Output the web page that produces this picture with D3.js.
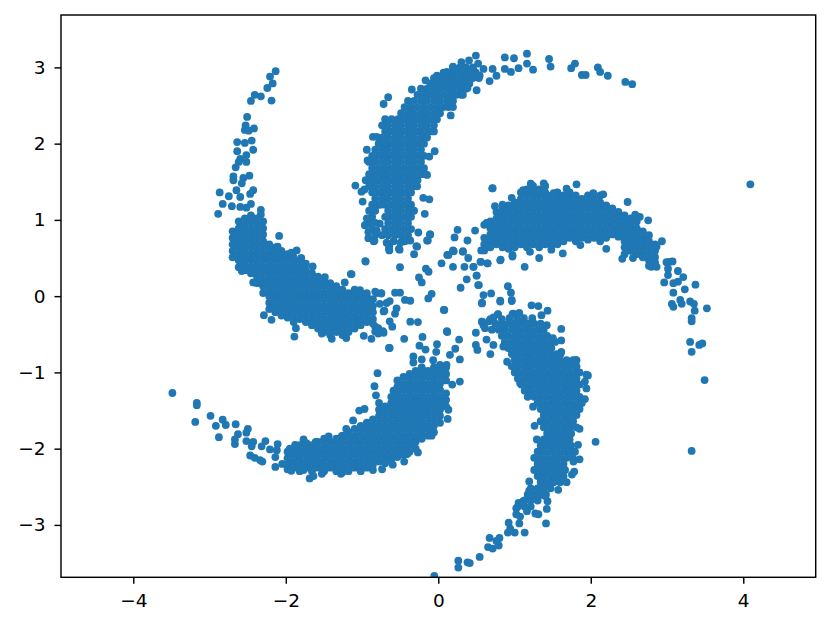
<!DOCTYPE html>
<html>
<head>
<meta charset="utf-8">
<script src="https://cdn.jsdelivr.net/npm/d3@7"></script>
<style>
  body { margin: 0; background: #fff; }
  text { font-family: "DejaVu Sans", sans-serif; }
</style>
</head>
<body>
<svg id="chart" width="831" height="628"></svg>
<script>
// ── Data ──────────────────────────────────────────────────────────────────────
const xTicks = [-4, -2, 0, 2, 4];
const yTicks = [-3, -2, -1, 0, 1, 2, 3];

// dense bands, read row by row: [y, [x...]]
const northRows = [
  [3.0,[.21,.30,.38,.47]],[2.93,[.085,.17,.255,.34,.425,.51]],[2.86,[-.04,.04,.13,.21,.30,.38,.47,.55]],
  [2.79,[-.085,0,.085,.17,.255,.34,.425]],[2.72,[-.21,-.13,-.04,.04,.13,.21,.30,.38]],
  [2.64,[-.255,-.17,-.085,0,.085,.17,.255,.34]],[2.56,[-.38,-.30,-.21,-.13,-.04,.04,.13,.21]],
  [2.48,[-.425,-.34,-.255,-.17,-.085,0,.085,.15]],[2.40,[-.47,-.38,-.30,-.21,-.13,-.04,.04]],
  [2.32,[-.68,-.595,-.51,-.425,-.34,-.255,-.17,-.085,0]],[2.24,[-.72,-.64,-.55,-.47,-.38,-.30,-.21,-.13,-.04]],
  [2.16,[-.68,-.595,-.51,-.425,-.34,-.255,-.17,-.085,-.04]],[2.08,[-.72,-.64,-.55,-.47,-.38,-.30,-.21,-.13]],
  [2.00,[-.765,-.68,-.595,-.51,-.425,-.34,-.255,-.17]],[1.92,[-.81,-.72,-.64,-.55,-.47,-.38,-.30,-.21]],
  [1.84,[-.85,-.765,-.68,-.595,-.51,-.425,-.34,-.255,-.17]],[1.76,[-.89,-.81,-.72,-.64,-.55,-.47,-.38,-.30,-.21]],
  [1.68,[-.85,-.765,-.68,-.595,-.51,-.425,-.34,-.255,-.17]],[1.60,[-.89,-.81,-.72,-.64,-.55,-.47,-.38,-.30,-.21,-.15]],
  [1.52,[-.935,-.85,-.765,-.68,-.595,-.51,-.425,-.34,-.255]],[1.44,[-.89,-.81,-.72,-.64,-.55,-.47,-.38,-.30]],
  [1.36,[-.85,-.765,-.68,-.595,-.51,-.425,-.34]],[1.28,[-.81,-.72,-.64,-.55,-.47,-.38]],
  [1.20,[-.85,-.765,-.68,-.595,-.51,-.425,-.34]],[1.12,[-.89,-.81,-.64,-.55,-.47,-.38,-.30]],
  [1.04,[-.85,-.68,-.595,-.51,-.425,-.34]],[.96,[-.89,-.81,-.64,-.55,-.47,-.38]],
  [.88,[-.85,-.68,-.595,-.51,-.425,-.34]],[.80,[-.81,-.72,-.64,-.55,-.47,-.38]]
];
// [x, [y...]]
const eastCols = [
  [.62,[.935,.765,.68,.6]],[.70,[.98,.89,.81,.72,.64]],[.78,[1.105,1.02,.935,.85,.765,.68]],
  [.86,[1.15,1.06,.98,.89,.81,.72,.64]],[.94,[1.19,1.105,1.02,.935,.85,.765,.68,.62]],
  [1.02,[1.23,1.15,1.06,.98,.89,.81,.72,.64]],[1.10,[1.36,1.275,1.19,1.105,1.02,.935,.85,.765,.68]],
  [1.18,[1.40,1.32,1.23,1.15,1.06,.98,.89,.81,.72,.64]],[1.26,[1.445,1.36,1.275,1.19,1.105,1.02,.935,.85,.765,.68]],
  [1.34,[1.40,1.32,1.23,1.15,1.06,.98,.89,.81,.72,.64]],[1.42,[1.445,1.36,1.275,1.19,1.105,1.02,.935,.85,.765,.68]],
  [1.50,[1.32,1.23,1.15,1.06,.98,.89,.81,.72,.66]],[1.58,[1.36,1.275,1.19,1.105,1.02,.935,.85,.765,.68]],
  [1.66,[1.32,1.23,1.15,1.06,.98,.89,.81,.72]],[1.74,[1.36,1.275,1.19,1.105,1.02,.935,.85,.765]],
  [1.82,[1.32,1.23,1.15,1.06,.98,.89,.81,.72]],[1.90,[1.275,1.19,1.105,1.02,.935,.85,.765]],
  [1.98,[1.32,1.23,1.15,1.06,.98,.89,.81,.74]],[2.06,[1.275,1.19,1.105,1.02,.935,.85,.765]],
  [2.14,[1.32,1.23,1.15,1.06,.98,.89,.81,.72]],[2.22,[1.19,1.105,1.02,.935,.85,.765]],
  [2.30,[1.15,1.06,.98,.89,.81]],[2.38,[1.105,1.02,.935,.85,.78]],[2.46,[1.06,.98,.89,.81,.72,.64,.55]],
  [2.54,[1.02,.935,.85,.765,.68,.595]],[2.62,[.98,.89,.81,.72,.64,.55]],[2.70,[.85,.765,.68,.595,.51]],
  [2.78,[.72,.64,.55,.47,.40]],[2.86,[.68,.595,.51,.44]]
];
const westCols = [
  [-2.68,[.85,.765,.68,.595,.51]],[-2.60,[.98,.89,.81,.72,.64,.55,.47,.38]],
  [-2.52,[1.02,.935,.85,.765,.68,.595,.51,.425,.34]],[-2.44,[1.06,.98,.89,.81,.72,.64,.55,.47,.38,.30]],
  [-2.36,[1.02,.935,.85,.765,.68,.595,.51,.425,.34,.255,.17]],[-2.28,[.98,.89,.81,.72,.64,.55,.47,.38,.30,.21,.13,.04]],
  [-2.20,[.68,.595,.51,.425,.34,.255,.17,.085,0,-.085,-.17]],[-2.12,[.64,.55,.47,.38,.30,.21,.13,.04,-.04,-.13,-.21]],
  [-2.04,[.595,.51,.425,.34,.255,.17,.085,0,-.085,-.17,-.255]],[-1.96,[.55,.47,.38,.30,.21,.13,.04,-.04,-.13,-.21,-.28]],
  [-1.88,[.51,.425,.34,.255,.17,.085,0,-.085,-.17,-.255,-.34]],[-1.80,[.47,.38,.30,.21,.13,.04,-.04,-.13,-.21,-.30]],
  [-1.72,[.425,.34,.255,.17,.085,0,-.085,-.17,-.255,-.34]],[-1.64,[.30,.21,.13,.04,-.04,-.13,-.21,-.30,-.38]],
  [-1.56,[.255,.17,.085,0,-.085,-.17,-.255,-.34,-.425]],[-1.48,[.21,.13,.04,-.04,-.13,-.21,-.30,-.38,-.47]],
  [-1.40,[.17,.085,0,-.085,-.17,-.255,-.34,-.425,-.51]],[-1.32,[.13,.04,-.04,-.13,-.21,-.30,-.38,-.47]],
  [-1.24,[.085,0,-.085,-.17,-.255,-.34,-.425,-.51]],[-1.16,[.04,-.04,-.13,-.21,-.30,-.38,-.47]],
  [-1.08,[.085,0,-.085,-.17,-.255,-.34,-.425]],[-1.00,[.04,-.04,-.13,-.21,-.30,-.38]],
  [-.92,[0,-.085,-.17,-.255,-.34]],[-.84,[-.04,-.13,-.21,-.30]]
];
const southWestCols = [
  [-1.96,[-2.04,-2.125,-2.21,-2.27]],[-1.88,[-2.0,-2.08,-2.17,-2.25]],[-1.80,[-1.955,-2.04,-2.125,-2.21,-2.295]],
  [-1.72,[-1.93,-2.0,-2.08,-2.17,-2.25]],[-1.64,[-1.955,-2.04,-2.125,-2.21,-2.295]],[-1.56,[-1.91,-2.0,-2.08,-2.17,-2.25]],
  [-1.48,[-1.87,-1.955,-2.04,-2.125,-2.21,-2.295]],[-1.40,[-1.91,-2.0,-2.08,-2.17,-2.25]],
  [-1.32,[-1.87,-1.955,-2.04,-2.125,-2.21,-2.295]],[-1.24,[-1.83,-1.91,-2.0,-2.08,-2.17,-2.25,-2.31]],
  [-1.16,[-1.785,-1.87,-1.955,-2.04,-2.125,-2.21,-2.295]],[-1.08,[-1.74,-1.83,-1.91,-2.0,-2.08,-2.17,-2.25]],
  [-1.00,[-1.70,-1.785,-1.87,-1.955,-2.04,-2.125,-2.21,-2.295]],[-.92,[-1.66,-1.74,-1.83,-1.91,-2.0,-2.08,-2.17,-2.25]],
  [-.84,[-1.615,-1.70,-1.785,-1.87,-1.955,-2.04,-2.125,-2.21,-2.28]],[-.76,[-1.40,-1.49,-1.57,-1.66,-1.74,-1.83,-1.91,-2.0,-2.08,-2.17]],
  [-.68,[-1.445,-1.53,-1.615,-1.70,-1.785,-1.87,-1.955,-2.04,-2.125,-2.19]],
  [-.60,[-1.32,-1.40,-1.49,-1.57,-1.66,-1.74,-1.83,-1.91,-2.0,-2.08,-2.14]],
  [-.52,[-1.105,-1.19,-1.275,-1.36,-1.445,-1.53,-1.615,-1.70,-1.785,-1.87,-1.955,-2.04,-2.11]],
  [-.44,[-1.06,-1.15,-1.23,-1.32,-1.40,-1.49,-1.57,-1.66,-1.74,-1.83,-1.91,-2.0,-2.08]],
  [-.36,[-1.02,-1.105,-1.19,-1.275,-1.36,-1.445,-1.53,-1.615,-1.70,-1.785,-1.87,-1.955,-2.04]],
  [-.28,[-.98,-1.06,-1.15,-1.23,-1.32,-1.40,-1.49,-1.57,-1.66,-1.74,-1.83,-1.91,-2.0]],
  [-.20,[-.935,-1.02,-1.105,-1.19,-1.275,-1.36,-1.445,-1.53,-1.615,-1.70,-1.785,-1.87]],
  [-.12,[-.98,-1.06,-1.15,-1.23,-1.32,-1.40,-1.49,-1.57,-1.66,-1.74,-1.83]],
  [-.04,[-.935,-1.02,-1.105,-1.19,-1.275,-1.36,-1.445,-1.53,-1.615,-1.70,-1.785]],
  [.04,[-.90,-.98,-1.06,-1.15,-1.23,-1.32,-1.40,-1.49,-1.57,-1.66]],
  [.12,[-.935,-1.02,-1.105,-1.275,-1.36,-1.445]]
];
const southEastRows = [
  [-.36,[.765,.85,.935,1.02,1.105,1.19,1.275,1.36]],[-.44,[.72,.81,.89,.98,1.06,1.15,1.23,1.32,1.40]],
  [-.52,[.85,.935,1.02,1.105,1.19,1.275,1.36,1.445]],[-.60,[.89,.98,1.06,1.15,1.23,1.32,1.40,1.49,1.55]],
  [-.68,[.935,1.02,1.105,1.19,1.275,1.36,1.445,1.5]],[-.76,[.98,1.06,1.15,1.23,1.32,1.40,1.49,1.57,1.62]],
  [-.84,[1.02,1.105,1.19,1.275,1.36,1.445,1.53,1.615,1.70,1.785]],[-.92,[.98,1.06,1.15,1.23,1.32,1.40,1.49,1.57,1.66,1.74,1.83]],
  [-1.00,[1.02,1.105,1.19,1.275,1.36,1.445,1.53,1.615,1.70,1.785,1.87]],[-1.08,[1.06,1.15,1.23,1.32,1.40,1.49,1.57,1.66,1.74,1.83]],
  [-1.16,[1.105,1.19,1.275,1.36,1.445,1.53,1.615,1.70,1.785,1.87]],[-1.24,[1.15,1.23,1.32,1.40,1.49,1.57,1.66,1.74,1.83]],
  [-1.32,[1.19,1.275,1.36,1.445,1.53,1.615,1.70,1.785,1.87]],[-1.40,[1.32,1.40,1.49,1.57,1.66,1.74,1.83,1.9]],
  [-1.48,[1.36,1.445,1.53,1.615,1.70,1.785,1.87]],[-1.56,[1.40,1.49,1.57,1.66,1.74,1.83]],
  [-1.64,[1.36,1.445,1.53,1.615,1.70,1.785]],[-1.72,[1.40,1.49,1.57,1.66,1.74,1.83]],
  [-1.80,[1.445,1.53,1.615,1.70,1.76]],[-1.88,[1.40,1.49,1.57,1.66,1.74]],
  [-1.96,[1.36,1.445,1.53,1.615,1.70,1.76]],[-2.04,[1.32,1.40,1.49,1.57,1.66,1.74,1.81]],
  [-2.12,[1.275,1.36,1.445,1.53,1.615,1.70,1.78]],[-2.20,[1.32,1.40,1.49,1.57,1.66]],
  [-2.28,[1.275,1.36,1.445,1.53,1.615,1.68]],[-2.36,[1.32,1.40,1.49,1.57,1.66]],
  [-2.44,[1.36,1.445,1.53,1.615]],[-2.52,[1.23,1.32,1.40,1.49]],
  [-2.60,[1.19,1.275,1.36,1.43]],[-2.68,[1.15,1.23,1.32]],[-2.76,[1.06,1.15,1.23]]
];

// single points on the arm edges and tails: [x, y]
const northEdge = [[.51,3.155],[.89,3.13],[1.01,3.12],[1.18,3.18],[1.18,3.05],[1.07,2.99],[1.26,2.97],[1.47,3.11],[1.49,3.01],
  [1.81,3.05],[1.76,2.99],[1.9,2.9],[1.95,2.9],[2.11,3.0],[2.14,2.94],[2.24,2.89],[2.47,2.81],[2.56,2.78],[.89,2.98],[.97,2.94],
  [.73,2.98],[.78,2.89],[.69,2.82],[.52,2.7],[.32,2.64],[.4,2.73],[-.64,2.61],[-.7,2.52],[-.33,2.71],[-.15,2.83],[0,2.89],
  [.21,3.01],[.32,3.07],[.42,3.09],[.54,3.05],[.61,2.98],[.13,2.94],[.48,2.96],[.56,2.89],
  [-1.07,1.45],[-.99,1.37],[-.95,1.4],[-.975,1.24],[-.92,1.92],[-.84,2.09],[-.79,2.09],[-.91,1.78],[-.92,1.02],[-.94,.93],
  [-.9,.84],[-.9,.76],[-.83,.72],[-.625,.65],[-.625,.6],[-.49,.61],[-.3,.55],[-.26,.65],[-.13,.73],[-.09,.81],[-.245,.835],
  [-.16,1.08],[-.1,1.27],[-.18,1.29],[-.26,1.44],[-.13,1.59],[-.1,1.83],[-.03,1.9],[.18,2.37],[.21,2.48],[.73,1.415],
  [.27,.87],[.23,.77],[.4,.73],[.135,.54],[.21,.6],[.34,.59],[-.945,.93],[-.82,.725],[-.63,.62],[-.5,.62],[-.27,.655],
  [-.35,.73],[-.57,.72],[-.42,.72],[-.79,.86],[-.66,.7],[-.48,.7],[-.75,.95],[-.74,1.2]];
const eastEdge = [[4.11,1.466],[.725,1.414],[.98,1.29],[2.5,1.235],[1.23,1.475],[1.4,1.48],[1.83,1.466],[1.7,1.41],[2.18,1.335],
  [2.05,1.35],[1.13,1.39],[1.53,1.35],[.76,1.18],[.86,1.2],[2.6,1.07],[2.66,1.04],[2.77,.995],[2.78,.8],[2.95,.72],[2.88,.65],
  [3.05,.45],[3.01,.445],[3.09,.455],[3.03,.36],[3.03,.276],[3.16,.33],[3.23,.25],[3.16,.19],[2.98,.18],[3.1,.17],[3.25,.09],
  [3.39,.15],[3.1,.045],[3.19,-.05],[3.08,-.1],[3.1,-.14],[3.21,-.1],[3.32,-.07],[3.37,-.1],[3.38,-.19],[3.54,-.16],[3.34,-.29],
  [3.34,-.33],[3.32,-.6],[3.44,-.64],[3.48,-.62],[3.34,-.73],[3.51,-1.1],[3.34,-2.03],
  [1.65,.56],[1.15,.385],[1.34,.5],[.99,.54],[.835,.48],[.58,.6],[.577,.45],[.665,.43],[.477,.385],[.52,.27],[.55,.145],
  [2.22,.62],[2.43,.49],[2.57,.5],[1.88,.67],[1.5,.61],[1.22,.58],[2.81,.385],[2.88,.385],[.5,.86],[.65,.96]];
const westEdge = [[-2.116,2.95],[-2.19,2.88],[-2.155,2.79],[-2.225,2.73],[-2.39,2.64],[-2.31,2.62],[-2.44,2.56],[-2.17,2.565],
  [-2.49,2.35],[-2.51,2.24],[-2.4,2.2],[-2.52,2.18],[-2.47,2.17],[-2.43,2.04],[-2.62,2.02],[-2.52,2.01],[-2.41,1.92],[-2.62,1.9],
  [-2.5,1.85],[-2.58,1.8],[-2.5,1.76],[-2.6,1.76],[-2.64,1.69],[-2.46,1.58],[-2.67,1.57],[-2.54,1.55],[-2.67,1.52],[-2.56,1.48],
  [-2.85,1.36],[-2.73,1.31],[-2.41,1.39],[-2.45,1.34],[-2.63,1.39],[-2.58,1.3],[-2.81,1.21],[-2.69,1.18],[-2.87,1.08],[-2.44,1.21],
  [-2.5,1.16],[-2.58,1.17],[-2.31,1.13],[-2.31,1.07],[-1.87,-.53],[-1.85,-.42],[-2.17,-.31],[-2.27,-.25],[-2.41,.18],[-2.56,.33],
  [-2.07,.79],[-2.09,.65],[-1.84,.6],[-1.91,.57],[-1.78,.5],[-1.63,.39],[-1.47,.25],[-1.13,.29],[-.94,.46],[-1.21,.18],[-.79,.04],
  [-.73,.04],[-.96,-.52],[-.86,-.56],[-.77,-.49],[-.71,-.46],[-.62,-.68],[-.81,-.4],[-.7,-.2],[-.66,-.09],[-.62,-.33],[-1.51,-.49],
  [-1.38,-.56],[-1.19,-.55]];
const centerPoints = [[-.935,.454],[-.485,.38],[-1.12,.29],[-.145,.36],[-.11,.32],[-.236,.245],[-.2,.18],[-.07,.03],[-.114,-.03],
  [.096,-.18],[-.35,-.335],[-.25,-.34],[.13,-.46],[-.43,-.56],[-.19,-.535],[.29,-.57],[.3,-.83],[.51,-.48],[.51,-.64],[.53,-.705],
  [.7,-.76],[.31,.11],[.39,.22],[.54,.145],[.52,.27],[.06,.43],[.15,.54],[.22,.59],[.34,.58],[.41,.5],[.21,.385],[.36,.385],
  [.48,.385],[.57,.45],[.66,.43],[-.09,.81],[-.12,.73],[.83,.47],[.99,.52],[.61,.014],[.59,-.086],[.71,.036],[.83,-.06],[.93,.13],
  [.97,.045],[.98,-.05],[1.0,-.23],[.8,-.24],[.59,-.335],[.7,-.3],[-.73,.035],[-.55,.045],[-.485,.045],[-.42,-.05],[-.35,-.06],
  [-.62,-.065],[-.69,-.19],[-.55,-.23],[-.53,-.16],[-.586,-.4],[-.77,-.42],[-.7,-.48],[-.81,-.465],[-.81,.06],[-.92,.04],[-1.01,.08],
  [-.88,-.05],[-.75,-.1],[-.84,-.36]];
const southWestEdge = [[-3.47,-1.27],[-3.15,-1.4],[-3.15,-1.43],[-3.17,-1.65],[-2.97,-1.57],[-2.9,-1.7],[-2.81,-1.62],[-2.77,-1.69],
  [-2.86,-1.85],[-2.64,-1.68],[-2.48,-1.74],[-2.5,-1.79],[-2.61,-1.81],[-2.65,-1.88],[-2.65,-1.94],[-2.5,-1.9],[-2.41,-1.91],[-2.43,-1.97],
  [-2.25,-1.9],[-2.3,-1.97],[-2.45,-2.09],[-2.39,-2.12],[-2.29,-2.17],[-2.32,-2.15],[-2.09,-1.94],[-2.1,-2.02],[-2.19,-2.01],[-2.12,-2.11],
  [-2.12,-2.24],[-2.03,-2.2],[-1.93,-2.0],[-1.86,-1.95],[-1.75,-1.88],[-1.71,-1.93],[-1.59,-1.91],[-1.67,-2.39],[-1.62,-2.36],[-1.51,-2.33],[-1.91,-2.29],
  [-1.75,-2.28],[-1.26,-2.33],[-1.42,-1.84],[-1.25,-1.84],[-1.19,-1.74],[-1.1,-1.63],[-1.02,-1.5],[-.95,-1.48],[-.8,-1.3],[-.82,-1.18],
  [-.78,-1.01],[-.63,-.68],[.3,-1.12],[.2,-1.16],[.15,-1.49],[.14,-1.61],[-.25,-2.05],[-.43,-2.17],[-.58,-2.21],[-.72,-2.27],[-.39,-2.07],
  [-.07,-1.83],[-.3,-1.93],[-.57,-1.24],[-.31,-.79],[-.31,-.87],[-.23,-.65],[-.15,-.7],[0,-.63],[.24,-.69],[.17,-.77],[-.01,-.73],
  [-.2,-.83],[-.05,-.84],[.125,-.9]];
const southEastEdge = [[-.035,-3.67],[.28,-3.47],[.28,-3.56],[.4,-3.49],[.43,-3.5],[.56,-3.42],[.67,-3.29],[.73,-3.31],[.69,-3.17],[.82,-3.17],
  [.81,-3.27],[.78,-3.21],[.93,-3.1],[1.02,-3.1],[1.15,-3.1],[.96,-3.05],[.94,-2.97],[1.08,-2.98],[1.43,-2.98],[1.33,-2.86],[1.29,-2.85],
  [1.44,-2.79],[1.45,-2.69],[1.07,-2.71],[1.13,-2.69],[1.04,-2.78],[1.04,-2.86],[1.18,-2.82],[1.09,-2.89],[2.08,-1.91],[1.21,-2.43],[1.21,-2.55],
  [1.26,-2.62],[1.33,-2.62],[1.42,-2.62],[1.59,-2.54],[1.7,-2.44],[1.8,-2.3],[1.77,-2.34],[1.87,-2.14],[1.79,-2.17],[1.85,-1.95],[1.87,-1.74],
  [1.28,-1.7],[1.31,-1.88],[1.26,-1.45],[1.09,-1.14],[1.94,-1.35],[1.96,-1.21],[1.98,-1.04],[1.94,-1.12],[1.83,-.84],[1.63,-.43],[1.63,-.58],
  [1.52,-.55],[1.63,-.73],[1.45,-.19],[1.33,-.13],[1.24,-.12],[1.08,-.22],[.99,-.235],[.8,-.235],[.59,-.095],[.83,-.07],[.98,-.065],
  [.61,-.38],[.65,-.57],[.135,-.47],[.09,-.18],[.59,-.335],[.63,-.42],[.68,-.33],[.74,-.28],[.85,-.3],[.95,-.29],[1.05,-.3],[1.14,-.29],
  [1.25,-.29],[1.37,-.25],[1.44,-.38],[.74,-.64],[.87,-.66],[.92,-.86],[1.96,-1.03],[1.82,-.84]];

// ── Scales ────────────────────────────────────────────────────────────────────
const plot = { left: 61, right: 815.7, top: 15, bottom: 577.3 };
const x = d3.scaleLinear().domain([-4.948, 4.95]).range([plot.left, plot.right]);
const y = d3.scaleLinear().domain([-3.687, 3.687]).range([plot.bottom, plot.top]);

const xReadOffset = -0.017; // values above were read against a slightly shifted zero

const fromRows = rows => rows.flatMap(([yv, xs]) => xs.map(xv => [xv, yv]));
const fromCols = cols => cols.flatMap(([xv, ys]) => ys.map(yv => [xv, yv]));

const points = [
  ...fromRows(northRows), ...fromCols(eastCols), ...fromCols(westCols),
  ...fromCols(southWestCols), ...fromRows(southEastRows),
  ...northEdge, ...eastEdge, ...westEdge, ...centerPoints, ...southWestEdge, ...southEastEdge
];

// ── Draw ──────────────────────────────────────────────────────────────────────
const svg = d3.select("#chart");

svg.append("clipPath").attr("id", "plot-clip").append("rect")
  .attr("x", plot.left).attr("y", plot.top)
  .attr("width", plot.right - plot.left).attr("height", plot.bottom - plot.top);

svg.append("g").attr("clip-path", "url(#plot-clip)")
  .selectAll("circle").data(points).join("circle")
  .attr("cx", d => x(d[0] + xReadOffset)).attr("cy", d => y(d[1]))
  .attr("r", 3.9).attr("fill", "#1f77b4");

const fmt = d => String(d).replace("-", "\u2212");

const xAxis = svg.append("g").attr("transform", `translate(0,${plot.bottom})`)
  .call(d3.axisBottom(x).tickValues(xTicks).tickFormat(fmt).tickSize(6.5).tickPadding(10.5));
const yAxis = svg.append("g").attr("transform", `translate(${plot.left},0)`)
  .call(d3.axisLeft(y).tickValues(yTicks).tickFormat(fmt).tickSize(6.5).tickPadding(9));

[xAxis, yAxis].forEach(a => {
  a.select(".domain").remove();
  a.selectAll("line").attr("stroke", "#000").attr("stroke-width", 1.44);
  a.selectAll("text").attr("fill", "#000").attr("font-size", 18.5)
    .attr("font-family", '"DejaVu Sans", sans-serif');
});

svg.append("rect")
  .attr("x", plot.left).attr("y", plot.top)
  .attr("width", plot.right - plot.left).attr("height", plot.bottom - plot.top)
  .attr("fill", "none").attr("stroke", "#000").attr("stroke-width", 1.44);
</script>
</body>
</html>
